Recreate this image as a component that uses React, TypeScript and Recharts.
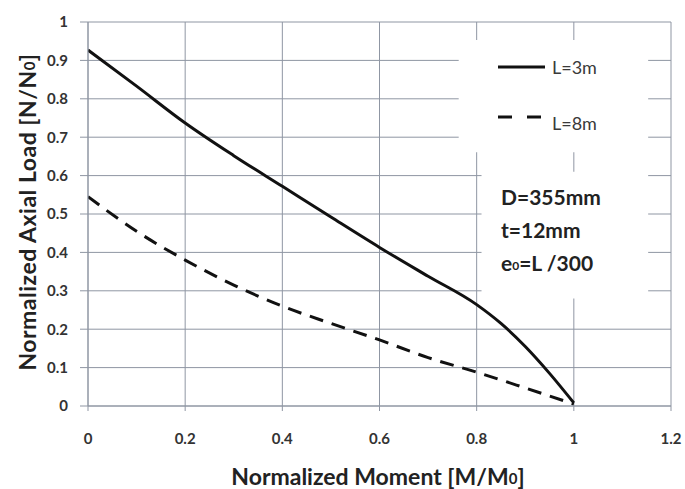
import React from "react";
import { LineChart, Line, XAxis, YAxis, CartesianGrid, ReferenceArea } from "recharts";

const xTicks = [0, 0.2, 0.4, 0.6, 0.8, 1, 1.2];
const yTicks = [0, 0.1, 0.2, 0.3, 0.4, 0.5, 0.6, 0.7, 0.8, 0.9, 1];

const momentL3 = [0, 0.1, 0.2, 0.3, 0.4, 0.5, 0.6, 0.7, 0.8, 0.85, 0.9, 0.95, 1.0];
const axialL3 = [0.927, 0.833, 0.737, 0.652, 0.572, 0.492, 0.413, 0.338, 0.264, 0.215, 0.155, 0.085, 0.008];

const momentL8 = [0, 0.1, 0.2, 0.3, 0.4, 0.5, 0.6, 0.7, 0.8, 0.9, 1.0];
const axialL8 = [0.545, 0.455, 0.38, 0.315, 0.26, 0.215, 0.172, 0.126, 0.088, 0.047, 0.005];

const seriesNames = ["L=3m", "L=8m"];
const notes = ["D=355mm", "t=12mm"];

const l3 = momentL3.map((m, i) => ({ m, n: axialL3[i] }));
const l8 = momentL8.map((m, i) => ({ m, n: axialL8[i] }));

const FONT = "Lato, 'Open Sans', sans-serif";
const GRID = "#8f96a3";

export default function App() {
  return (
    <div style={{ position: "fixed", left: 0, top: 0, width: 685, height: 489, background: "#fff", fontFamily: FONT }}>
      <LineChart width={685} height={489} margin={{ top: 22, right: 14, bottom: 33, left: 10 }}>
        <CartesianGrid stroke={GRID} strokeWidth={1} />
        <XAxis
          type="number"
          dataKey="m"
          domain={[0, 1.2]}
          ticks={xTicks}
          height={50}
          tickSize={5}
          tickMargin={22}
          axisLine={{ stroke: GRID }}
          tickLine={{ stroke: GRID }}
          tick={{ fontSize: 15, fontWeight: 700, fill: "#333", fontFamily: FONT }}
          tickFormatter={(v) => String(v)}
          allowDataOverflow
        />
        <YAxis
          type="number"
          dataKey="n"
          domain={[0, 1]}
          ticks={yTicks}
          width={78}
          tickSize={8}
          tickMargin={12}
          axisLine={{ stroke: GRID }}
          tickLine={{ stroke: GRID }}
          tick={{ fontSize: 15, fontWeight: 700, fill: "#333", fontFamily: FONT }}
          tickFormatter={(v) => String(v)}
          allowDataOverflow
        />
        <ReferenceArea x1={0.763} x2={1.153} y1={0.661} y2={0.953} fill="#ffffff" fillOpacity={1} stroke="none" />
        <ReferenceArea x1={0.81} x2={1.153} y1={0.28} y2={0.61} fill="#ffffff" fillOpacity={1} stroke="none" />
        <Line
          data={l3}
          dataKey="n"
          type="monotone"
          stroke="#111"
          strokeWidth={3}
          dot={false}
          isAnimationActive={false}
          name={seriesNames[0]}
        />
        <Line
          data={l8}
          dataKey="n"
          type="monotone"
          stroke="#111"
          strokeWidth={3}
          strokeDasharray="14 9"
          dot={false}
          isAnimationActive={false}
          name={seriesNames[1]}
        />
      </LineChart>
      <svg width={685} height={489} style={{ position: "absolute", left: 0, top: 0, pointerEvents: "none" }}>
        <line x1={498} x2={545} y1={67} y2={67} stroke="#111" strokeWidth={3} />
        <text x={552} y={67} dominantBaseline="central" fontSize={18} fill="#3a3a3a" fontFamily={FONT}>{seriesNames[0]}</text>
        <line x1={498} x2={541} y1={117} y2={117} stroke="#111" strokeWidth={3} strokeDasharray="14 15" />
        <text x={552} y={123} dominantBaseline="central" fontSize={18} fill="#3a3a3a" fontFamily={FONT}>{seriesNames[1]}</text>
        <text x={501} y={196} dominantBaseline="central" fontSize={21} fontWeight={700} fill="#222" fontFamily={FONT}>{notes[0]}</text>
        <text x={501} y={229} dominantBaseline="central" fontSize={21} fontWeight={700} fill="#222" fontFamily={FONT}>{notes[1]}</text>
        <text x={501} y={262} dominantBaseline="central" fontSize={21} fontWeight={700} fill="#222" fontFamily={FONT}>
          e<tspan fontSize={12} dy={3}>0</tspan><tspan dy={-3}>=L /300</tspan>
        </text>
        <text
          x={27}
          y={212}
          transform="rotate(-90 27 212)"
          textAnchor="middle"
          dominantBaseline="central"
          fontSize={23}
          fontWeight={700}
          letterSpacing={0.5}
          fill="#222"
          fontFamily={FONT}
        >
          Normalized Axial Load [N/N<tspan fontSize={15} dy={2}>0</tspan><tspan dy={-2}>]</tspan>
        </text>
        <text
          x={378}
          y={476}
          textAnchor="middle"
          dominantBaseline="central"
          fontSize={23}
          fontWeight={700}
          fill="#222"
          fontFamily={FONT}
        >
          Normalized Moment [M/M<tspan fontSize={15} dy={2}>0</tspan><tspan dy={-2}>]</tspan>
        </text>
      </svg>
    </div>
  );
}
